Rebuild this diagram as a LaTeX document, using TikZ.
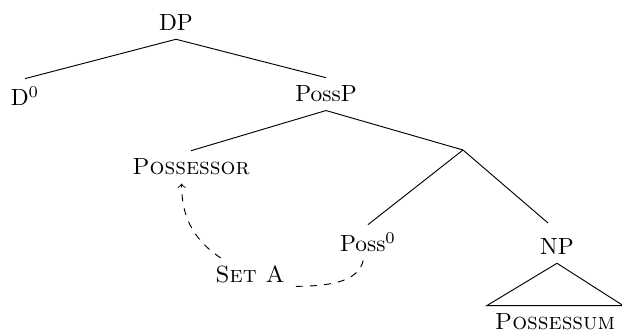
\documentclass[tikz,border=0pt]{standalone}
\usepackage{amsmath}
\usepackage{tikz}

\begin{document}
\begin{tikzpicture}[x=0.015cm,y=-0.015cm]
  \useasboundingbox(0,0) rectangle (622,333);
  \node[anchor=base](dp) at (176,31){DP};
  \node[anchor=base](d0) at (25,106){D$^0$};
  \node[anchor=base](possp) at (326,102){PossP};
  \node[anchor=base](possessor) at (191,175){\textsc{Possessor}};
  \coordinate(pbar) at (463,150);
  \node[anchor=base](poss0) at (368,252){Poss$^0$};
  \node[anchor=base](np) at (557,255){NP};
  \node[anchor=base](possessum) at (555,330){\textsc{Possessum}};
  \node[anchor=base](seta) at (250,283){\textsc{Set A}};
  \draw(dp.south) -- (d0.north);
  \draw(dp.south) -- (possp.north);
  \draw(possp.south) -- (possessor.north);
  \draw(possp.south) -- (pbar);
  \draw(pbar) -- (poss0.north);
  \draw[shorten >=5pt](pbar) -- (np.north);
  \draw(np.south) -- (possessum.north west) -- (possessum.north east) -- cycle;
  \draw[dashed](poss0.255) .. controls +(-5,22) and +(35,0) .. (seta.-15);
  \draw[dashed,->](seta.150) .. controls +(-30,-20) and +(0,30) .. ([xshift=-4pt]possessor.south);
\end{tikzpicture}
\end{document}
